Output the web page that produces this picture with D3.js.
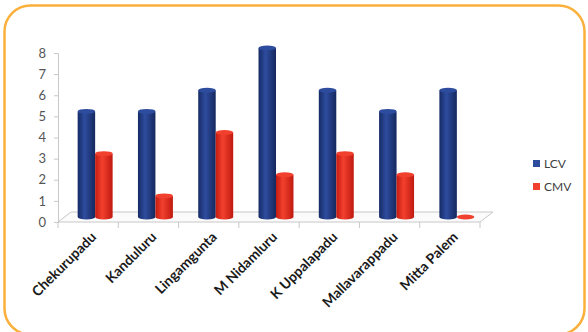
<!DOCTYPE html>
<html>
<head>
<meta charset="utf-8">
<script src="https://cdn.jsdelivr.net/npm/d3@7"></script>
<style>
  body { margin: 0; background: #fff; }
  svg text { font-family: Lato, "Open Sans", sans-serif; }
</style>
</head>
<body>
<svg id="chart" width="588" height="332"></svg>
<script>
let villages = ["Chekurupadu", "Kanduluru", "Lingamgunta", "M Nidamluru", "K Uppalapadu", "Mallavarappadu", "Mitta Palem"];
let seriesNames = ["LCV", "CMV"];
let lcvValues = [5, 5, 6, 8, 6, 5, 6];
let cmvValues = [3, 1, 4, 2, 3, 2, 0];
let yTicks = [0, 1, 2, 3, 4, 5, 6, 7, 8];

let svg = d3.select("svg#chart");
let colors = { "LCV": ["#162b66", "#2e4c9e", "#15285e"], "CMV": ["#c41b10", "#f2402e", "#c01a10"] };

// orange rounded frame
svg.append("rect")
    .attr("x", 4.5).attr("y", 5.5)
    .attr("width", 580).attr("height", 329)
    .attr("rx", 26).attr("ry", 26)
    .attr("fill", "none")
    .attr("stroke", "#fbb03b")
    .attr("stroke-width", 2.5);

let plotLeft = 58, plotRight = 480, plotTop = 53, plotBottom = 222;
let depthX = 13, depthY = -10;

let y = d3.scaleLinear().domain([0, 8]).range([plotBottom, plotTop]);
let x0 = d3.scaleBand().domain(villages).range([plotLeft, plotRight]).paddingInner(0.42).paddingOuter(0.21);
let x1 = d3.scaleBand().domain(seriesNames).range([0, x0.bandwidth()]);

let defs = svg.append("defs");
seriesNames.forEach(function (s) {
    let g = defs.append("linearGradient").attr("id", "grad" + s).attr("x1", "0%").attr("x2", "100%");
    g.append("stop").attr("offset", "0%").attr("stop-color", colors[s][0]);
    g.append("stop").attr("offset", "40%").attr("stop-color", colors[s][1]);
    g.append("stop").attr("offset", "100%").attr("stop-color", colors[s][2]);
});

// floor
svg.append("path")
    .attr("d", "M" + plotLeft + "," + plotBottom + " L" + (plotLeft + depthX) + "," + (plotBottom + depthY) +
        " L" + (plotRight + depthX) + "," + (plotBottom + depthY) + " L" + plotRight + "," + plotBottom + " Z")
    .attr("fill", "#fbfbfb")
    .attr("stroke", "#c8c8c8")
    .attr("stroke-width", 1);

// y axis
let yAxis = d3.axisLeft(y).tickValues(yTicks).tickSize(4).tickPadding(8).tickFormat(d3.format("d"));
let yG = svg.append("g").attr("transform", "translate(" + plotLeft + ",0)").call(yAxis);
yG.select("path.domain").attr("stroke", "#c8c8c8");
yG.selectAll(".tick line").attr("stroke", "#c8c8c8");
yG.selectAll(".tick text").style("font-size", "13px").attr("fill", "#555");

// x ticks at category boundaries
let bounds = villages.map(function (d) { return x0(d) - x0.step() * 0.21; });
bounds.push(plotRight);
svg.selectAll("line.xtick").data(bounds).enter().append("line")
    .attr("class", "xtick")
    .attr("x1", d => d).attr("x2", d => d)
    .attr("y1", plotBottom).attr("y2", plotBottom + 6)
    .attr("stroke", "#c8c8c8");

// bars as cylinders
let barData = [];
villages.forEach(function (v, i) {
    barData.push({ village: v, series: "LCV", value: lcvValues[i] });
    barData.push({ village: v, series: "CMV", value: cmvValues[i] });
});
let offX = 7, offY = -5;
let bw = x1.bandwidth();
let bars = svg.append("g").selectAll("g.bar").data(barData).enter().append("g").attr("class", "bar");
bars.each(function (d) {
    let g = d3.select(this);
    let bx = x0(d.village) + x1(d.series) + offX;
    let top = y(d.value) + offY;
    let base = y(0) + offY;
    let ry = 2.5;
    if (d.value > 0) {
        g.append("path")
            .attr("d", "M" + bx + "," + top + " L" + bx + "," + base +
                " A" + (bw / 2) + "," + ry + " 0 0 0 " + (bx + bw) + "," + base +
                " L" + (bx + bw) + "," + top + " Z")
            .attr("fill", "url(#grad" + d.series + ")");
    }
    g.append("ellipse")
        .attr("cx", bx + bw / 2).attr("cy", top)
        .attr("rx", bw / 2).attr("ry", ry)
        .attr("fill", colors[d.series][1]);
});

// category labels
svg.selectAll("text.cat").data(villages).enter().append("text")
    .attr("class", "cat")
    .attr("transform", d => "translate(" + (x0(d) + x0.bandwidth() / 2 + 9) + "," + (plotBottom + 16) + ")rotate(-45)")
    .style("text-anchor", "end")
    .style("font-size", "14px")
    .style("font-weight", "bold")
    .attr("fill", "#1a1a1a")
    .text(d => d);

// legend
let legend = svg.append("g").attr("transform", "translate(533,160)");
seriesNames.forEach(function (s, i) {
    legend.append("rect").attr("x", 0).attr("y", i * 23).attr("width", 7).attr("height", 7).attr("fill", colors[s][1]);
    legend.append("text").attr("x", 11).attr("y", i * 23 + 7.5).style("font-size", "12px").attr("fill", "#404040").text(s);
});
</script>
</body>
</html>
